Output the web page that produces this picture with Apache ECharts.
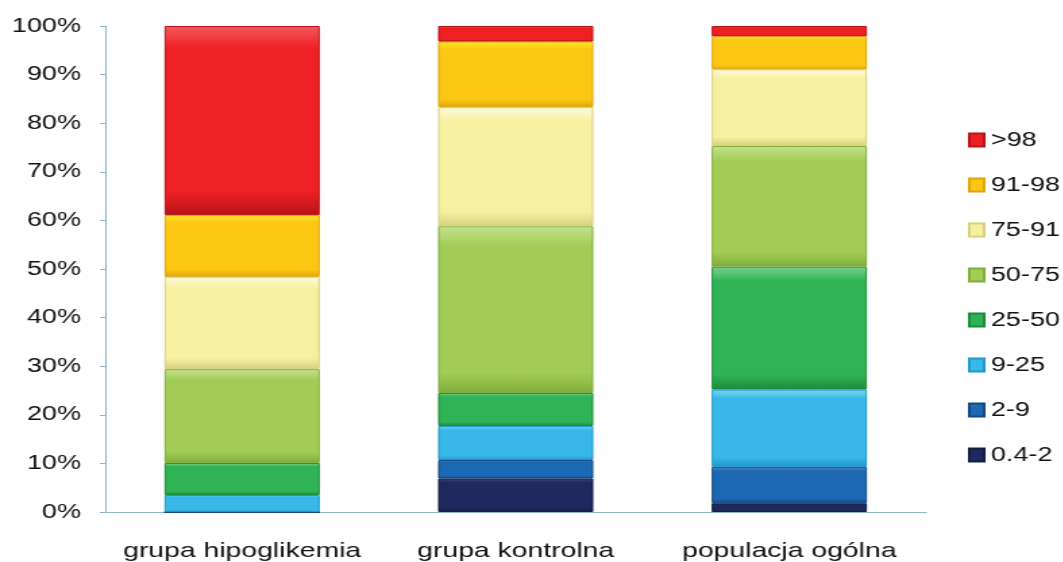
<!DOCTYPE html>
<html>
<head>
<meta charset="utf-8">
<script src="https://cdn.jsdelivr.net/npm/echarts@6/dist/echarts.min.js"></script>
<style>
  html, body { margin: 0; padding: 0; background: #ffffff; overflow: hidden; }
  /* the chart is laid out narrow and widened horizontally, giving the wide lettering */
  #chart { width: 787px; height: 562px; transform: scaleX(1.35); transform-origin: 0 0; }
</style>
</head>
<body>
<div id="chart"></div>
<script>
// Groups on the category axis
const categories = ['grupa hipoglikemia', 'grupa kontrolna', 'populacja ogólna'];

// Percentile bands (bottom of stack first)
const bandNames = ['0.4-2', '2-9', '9-25', '25-50', '50-75', '75-91', '91-98', '>98'];

// Share of each group in every band, %
const band_0_4_2 = [0.0, 6.9, 1.8];
const band_2_9   = [0.0, 3.8, 7.5];
const band_9_25  = [3.5, 7.0, 15.9];
const band_25_50 = [6.6, 6.8, 25.3];
const band_50_75 = [19.3, 34.3, 24.8];
const band_75_91 = [19.0, 24.5, 15.8];
const band_91_98 = [12.7, 13.5, 6.8];
const band_98    = [38.9, 3.2, 2.1];

const bandValues = [band_0_4_2, band_2_9, band_9_25, band_25_50, band_50_75, band_75_91, band_91_98, band_98];

// Band colours: highlight, base, shadow
const bandColors = [
  ['#3a4a8c', '#1e2a5e', '#141c40'],
  ['#4a8fd0', '#1c68b3', '#12487e'],
  ['#7fd4f2', '#37b8e8', '#1f97c8'],
  ['#7fd08e', '#2fb355', '#1d8a3c'],
  ['#c4e28e', '#a1cd56', '#80ad3a'],
  ['#fffbe0', '#f6f0a0', '#d8d07a'],
  ['#fbe92e', '#fbc712', '#e0a50a'],
  ['#f45a5e', '#ed2024', '#b81418']
];

const yTicks = { min: 0, max: 100, interval: 10 };

const chart = echarts.init(document.getElementById('chart'), null, { renderer: 'canvas' });

const series = bandNames.map((name, i) => ({
  name: name,
  type: 'bar',
  stack: 'total',
  barWidth: 115,
  data: bandValues[i],
  itemStyle: {
    color: {
      type: 'linear', x: 0, y: 0, x2: 0, y2: 1,
      colorStops: [
        { offset: 0, color: bandColors[i][0] },
        { offset: 0.12, color: bandColors[i][1] },
        { offset: 0.88, color: bandColors[i][1] },
        { offset: 1, color: bandColors[i][2] }
      ]
    },
    borderColor: bandColors[i][2],
    borderWidth: 1
  },
  emphasis: { disabled: true }
}));

chart.setOption({
  animation: false,
  backgroundColor: '#ffffff',
  textStyle: { fontFamily: 'Liberation Sans, Arial, sans-serif' },
  grid: { left: 78, right: 101, top: 26, bottom: 50, containLabel: false },
  legend: {
    orient: 'vertical',
    left: 712,
    top: 124,
    itemWidth: 11,
    itemHeight: 13,
    itemGap: 23,
    icon: 'rect',
    data: bandNames.slice().reverse(),
    textStyle: { fontSize: 20, color: '#111111', lineHeight: 22 },
    selectedMode: false
  },
  xAxis: {
    type: 'category',
    data: categories,
    axisLine: { lineStyle: { color: '#8db3c7', width: 1 } },
    axisTick: { show: false },
    axisLabel: { fontSize: 21, color: '#111111', margin: 29, interval: 0 }
  },
  yAxis: {
    type: 'value',
    min: yTicks.min,
    max: yTicks.max,
    interval: yTicks.interval,
    axisLine: { show: true, lineStyle: { color: '#8db3c7', width: 1 } },
    axisTick: { show: true, length: 4, lineStyle: { color: '#8db3c7' } },
    splitLine: { show: false },
    axisLabel: { fontSize: 20, color: '#111111', margin: 18, formatter: '{value}%' }
  },
  series: series
});
</script>
</body>
</html>
